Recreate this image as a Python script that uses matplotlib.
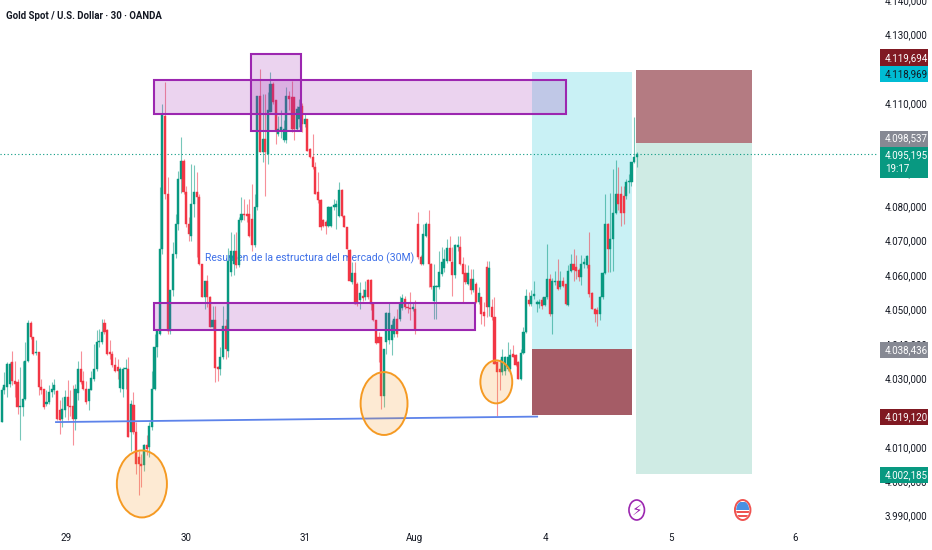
# -*- coding: utf-8 -*-
import numpy as np
import matplotlib
matplotlib.use('Agg')
import matplotlib.pyplot as plt
from matplotlib.patches import Rectangle, Ellipse
from matplotlib.transforms import IdentityTransform

plt.rcParams['font.family'] = ['Roboto', 'DejaVu Sans']

# candles (30M)
opens = [
    4017.2, 4026.4, 4027.4, 4028.4, 4034.6, 4029.3, 4028.8, 4021.6, 4021.6, 4024,
    4035.1, 4046, 4041.9, 4037.3, 4037.6, 4027.4, 4026.9, 4022.5, 4023, 4025.9,
    4026.4, 4026.2, 4020.8, 4018.2, 4020.8, 4024.5, 4022, 4021.8, 4018.2, 4025.6,
    4032.7, 4029.3, 4026.9, 4023.2, 4026.6, 4029.8, 4032.7, 4040.5, 4040.5, 4046,
    4043.9, 4037.6, 4037.1, 4033.7, 4033.2, 4027.2, 4026.9, 4032.7, 4032.7, 4014.3,
    4022.3, 4014.3, 4007, 4005, 4004.6, 4010.4, 4009.9, 4015.7, 4026.9, 4039,
    4042.9, 4067.6, 4106.4, 4083.6, 4043.8, 4055.5, 4066, 4074.9, 4088, 4093.3,
    4084.1, 4074.9, 4071.5, 4080.7, 4084.1, 4082.6, 4063.3, 4053.6, 4058.4, 4053.6,
    4044.8, 4046.8, 4033.2, 4032.7, 4036.1, 4045.3, 4038, 4060.8, 4063.3, 4067.1,
    4062.8, 4075.9, 4077.8, 4077.8, 4077.8, 4076.3, 4068.6, 4079.7, 4112.2, 4095.8,
    4099.6, 4095.3, 4107.4, 4115.6, 4110.8, 4101, 4102, 4099.2, 4099.2, 4112.2,
    4111.8, 4111.8, 4102.5, 4105.4, 4109.3, 4104, 4105.4, 4096.7, 4094.3, 4091.4,
    4084.1, 4081.7, 4075.9, 4075.4, 4074.4, 4074.4, 4079.7, 4079.7, 4077.3, 4084.8,
    4077.3, 4073.9, 4067.3, 4057.9, 4060.5, 4057.4, 4052.6, 4054, 4053.5, 4058.6,
    4058.6, 4051.6, 4046.8, 4041.9, 4041.9, 4024.9, 4040.5, 4041, 4041, 4042.9,
    4047.2, 4047.2, 4050.4, 4053, 4050.6, 4050.4, 4050.2, 4050.2, 4074.9, 4065.2,
    4063.3, 4071.5, 4074.9, 4063.3, 4052.4, 4056.5, 4056.5, 4060.3, 4062.1, 4064.2,
    4067.8, 4063.7, 4059.9, 4068.1, 4068.3, 4063.3, 4060.5, 4057.4, 4058.9, 4055.5,
    4057.4, 4052.1, 4053.5, 4049.2, 4062.3, 4050.6, 4050.6, 4047.7, 4034.6, 4032.7,
    4031.7, 4032, 4032.7, 4032.7, 4037.1, 4036.6, 4034.6, 4029.8, 4037.3, 4043.4,
    4052.6, 4051.6, 4054, 4051.6, 4051.6, 4052.6, 4051.4, 4053.5, 4058.9, 4048.7,
    4057.9, 4058.4, 4056.5, 4058.4, 4057.4, 4051.4, 4061.3, 4063.3, 4062.3, 4061.5,
    4059.4, 4063.3, 4062.8, 4062.8, 4054.7, 4050.2, 4049.9, 4048.7, 4053.5, 4060.6,
    4074.9, 4067.6, 4070.5, 4078, 4083.6, 4083.6, 4083.1, 4083.1, 4087, 4087,
    4092.8, 4094.3]
highs = [
    4027.4, 4031.8, 4034.6, 4034.6, 4038, 4035.1, 4029.8, 4033.2, 4035.1, 4040.5,
    4046.8, 4046.6, 4042, 4041, 4037.6, 4029.8, 4026.9, 4026.4, 4027.9, 4028.8,
    4029.8, 4026.4, 4023.5, 4024.5, 4026.4, 4029.5, 4026.4, 4027.9, 4028.4, 4035.1,
    4038, 4032.2, 4029.3, 4026.9, 4032.2, 4040, 4043.9, 4044.4, 4047.3, 4047.3,
    4044.4, 4041, 4038, 4036.1, 4035.6, 4033.2, 4033.2, 4035.6, 4036.1, 4023.5,
    4025.9, 4017.2, 4008.9, 4008, 4010.9, 4013.3, 4017.2, 4032.2, 4042.9, 4044,
    4085.5, 4109.8, 4116.1, 4088.5, 4055.5, 4069.6, 4077.8, 4090.4, 4100.1, 4093.8,
    4086, 4076.8, 4092.4, 4091.9, 4090, 4083.6, 4063.3, 4058.4, 4059.9, 4054,
    4051.1, 4051.1, 4033.5, 4039, 4051.1, 4047.3, 4068, 4072.5, 4072, 4072.5,
    4076.8, 4082.6, 4082.2, 4080.7, 4082.2, 4086.5, 4083.6, 4112.2, 4120, 4112.7,
    4112.7, 4113.2, 4119, 4116.1, 4110.8, 4106.4, 4107.9, 4105, 4114.7, 4113.5,
    4116.6, 4111.8, 4109.3, 4111.3, 4110, 4107, 4105.4, 4097, 4101, 4092.8,
    4090, 4082, 4076.3, 4075.9, 4080, 4080, 4082.2, 4081.7, 4087, 4085,
    4077.5, 4074, 4067.5, 4063.7, 4063.7, 4058, 4057.9, 4056, 4058.4, 4058.9,
    4058.9, 4052, 4047, 4043.4, 4042, 4038.5, 4049.2, 4052, 4046.8, 4048,
    4050.2, 4054, 4054.5, 4054, 4052, 4055, 4052, 4052.6, 4078.3, 4065.7,
    4074.9, 4075.4, 4078.8, 4063.5, 4063.3, 4057, 4067.1, 4068.1, 4067.6, 4070.5,
    4071.5, 4068.1, 4069, 4071.5, 4071.5, 4065.2, 4063.3, 4062.8, 4061.8, 4061.8,
    4057.9, 4056.5, 4053.6, 4052.1, 4064.2, 4064, 4053, 4053.5, 4035, 4035.6,
    4038.5, 4036.5, 4040.5, 4038.5, 4039.5, 4037, 4035, 4038.5, 4044.8, 4056,
    4055, 4055.5, 4058.4, 4052.6, 4053, 4053.5, 4053.7, 4069, 4060.3, 4059,
    4061.3, 4064.7, 4061.3, 4059.4, 4057.5, 4062.8, 4066, 4067.6, 4065.7, 4062,
    4065.7, 4065, 4065.7, 4072.5, 4055, 4050.5, 4050.7, 4054, 4060.8, 4083.6,
    4075, 4084, 4090.9, 4093.5, 4091.4, 4086, 4086, 4088, 4089.4, 4093,
    4105.9, 4095.8]
lows = [
    4017.2, 4025.4, 4024.5, 4027.4, 4027.9, 4024.5, 4019.6, 4011.9, 4019.1, 4023.5,
    4034.6, 4041.4, 4036.6, 4036.6, 4025, 4025.4, 4021, 4021.8, 4022.5, 4024.5,
    4025.4, 4017.7, 4013.8, 4015.7, 4018.7, 4017.7, 4019.1, 4010.4, 4014.8, 4023.5,
    4028.4, 4026.4, 4022.5, 4020.6, 4026.4, 4029.3, 4032.2, 4039, 4040, 4042.9,
    4036.6, 4035.6, 4033.2, 4031.8, 4029.8, 4025.9, 4024.5, 4026.9, 4012.8, 4008.9,
    4013.8, 4002.1, 3995.9, 3998.3, 4003.1, 4007.5, 4007, 4014.8, 4026.4, 4036.1,
    4042.4, 4066, 4082, 4042.9, 4042.9, 4054, 4065, 4073, 4084, 4083.6,
    4074, 4070, 4070, 4077, 4065.2, 4063, 4053.6, 4050, 4050.6, 4044.8,
    4044, 4028.8, 4029.3, 4030.8, 4035.6, 4035.6, 4036, 4059.8, 4060, 4062,
    4062.3, 4075.4, 4076, 4075.4, 4071, 4067.1, 4068.1, 4078.8, 4095.8, 4093,
    4083.1, 4092.4, 4107.4, 4109.8, 4098.2, 4100.6, 4100, 4098.7, 4098.5, 4108,
    4101.6, 4099.2, 4102, 4103, 4101.5, 4103, 4096, 4094, 4091, 4083.5,
    4081, 4073, 4073.9, 4072, 4073.9, 4073.9, 4079, 4073.4, 4076.8, 4076.8,
    4073.9, 4067.5, 4058.4, 4057.4, 4051.6, 4051, 4050, 4052.5, 4052.6, 4053,
    4049.7, 4046.5, 4040, 4034.6, 4021, 4021.5, 4037, 4040, 4036.6, 4042,
    4042, 4046.5, 4049.7, 4050.2, 4049, 4046.8, 4049.5, 4042.9, 4064.7, 4062.8,
    4062.8, 4071, 4056.5, 4056, 4047.2, 4047.2, 4056, 4059.8, 4061, 4063.5,
    4064, 4054, 4059, 4067, 4063, 4052.1, 4057.4, 4057, 4054.5, 4055,
    4052, 4051.6, 4045.8, 4045.3, 4047.7, 4048, 4047, 4034, 4019.1, 4026.4,
    4031, 4031, 4032, 4032, 4036, 4033.5, 4029.7, 4029.5, 4037, 4043,
    4051.1, 4051, 4053, 4049.2, 4050.5, 4050.2, 4051, 4053, 4048.2, 4042.9,
    4057, 4055.5, 4056, 4056.5, 4051.4, 4051, 4061, 4058.4, 4058.9, 4058.4,
    4057, 4062, 4062, 4053.7, 4050, 4046.3, 4045.3, 4047, 4053, 4060.3,
    4060.8, 4061, 4061.3, 4077.8, 4079, 4074.4, 4074.9, 4082, 4084, 4086,
    4092.5, 4091.4]
closes = [
    4026.4, 4027.9, 4034.2, 4034.2, 4029.3, 4028.4, 4021.6, 4022, 4024, 4035.1,
    4046, 4041.9, 4037.1, 4037.6, 4027.4, 4026.6, 4021.6, 4023, 4025.9, 4026.9,
    4027.9, 4018.2, 4017.9, 4021.1, 4024.5, 4021.8, 4021.6, 4018.2, 4026.9, 4032.7,
    4028.8, 4026.9, 4023, 4026.9, 4030.1, 4032.7, 4040.5, 4040.8, 4043.4, 4043.4,
    4037.1, 4037.1, 4033.7, 4032.2, 4032.2, 4032.7, 4032.7, 4032.9, 4012.8, 4022.5,
    4014.3, 4005, 4005, 4004.4, 4010.4, 4009.4, 4016.2, 4026.9, 4039, 4043.9,
    4067.6, 4106.9, 4083.6, 4043.8, 4055.5, 4066, 4074.9, 4088, 4093.3, 4084.1,
    4074.9, 4072, 4080.7, 4084.1, 4082.6, 4063.3, 4053.6, 4058.4, 4053.6, 4044.8,
    4046.8, 4033, 4032.7, 4036.1, 4045.3, 4038.5, 4064.2, 4067.1, 4067.1, 4062.8,
    4075.9, 4077.8, 4077.6, 4077.3, 4071.5, 4068.6, 4079.7, 4112.2, 4095.8, 4099.6,
    4095.8, 4107.9, 4115.6, 4110.3, 4102, 4102.5, 4103, 4102.5, 4112.2, 4111.3,
    4102.5, 4102.5, 4108.4, 4108.9, 4104, 4105.4, 4096.2, 4094.3, 4091.4, 4083.6,
    4081.7, 4073.9, 4074.4, 4074.4, 4079.7, 4079.7, 4080.5, 4080.7, 4084.8, 4077.3,
    4073.9, 4067.6, 4058.4, 4060.5, 4051.6, 4051.6, 4054.7, 4053.4, 4055.5, 4053.5,
    4051.6, 4046.8, 4040.2, 4040.2, 4024.9, 4038.5, 4048.9, 4048.9, 4045.6, 4047.2,
    4042.9, 4051.6, 4053.4, 4050.6, 4050.4, 4050.2, 4050.6, 4044.3, 4065.2, 4063.3,
    4072, 4074.9, 4063.3, 4056.5, 4056.7, 4056.7, 4060.8, 4063.7, 4064.7, 4067.8,
    4064.2, 4059.9, 4068.6, 4068.6, 4063.3, 4060.3, 4057.9, 4060.5, 4055.5, 4058.9,
    4052.1, 4054.7, 4048.7, 4048.2, 4050.6, 4062, 4047.7, 4034.2, 4031.7, 4031.7,
    4036.1, 4036.1, 4036.1, 4036.6, 4036.1, 4033.7, 4029.8, 4037.3, 4043.4, 4054,
    4051.6, 4054, 4054.5, 4052.1, 4052.1, 4051.1, 4053.5, 4058.9, 4048.7, 4058.4,
    4058.4, 4056, 4058.4, 4056.9, 4051.6, 4061.3, 4063.3, 4061.5, 4061.3, 4059.4,
    4063.3, 4063.7, 4065.4, 4054.5, 4050.2, 4048.7, 4048.7, 4053.5, 4060.5, 4074.9,
    4067.6, 4070.5, 4078, 4083.6, 4080.7, 4078, 4078, 4087, 4087.5, 4092.8,
    4094.3, 4095.2]

# axes labels
y_ticks = [3990, 4000, 4010, 4020, 4030, 4040, 4050, 4060, 4070, 4080, 4090, 4100, 4110, 4120, 4130, 4140]
day_labels = ['29', '30', '31', 'Aug', '4', '5', '6']
day_bars = [24.4, 69.9, 115.1, 156.8, 206.2, 254, 301]

# price levels of the two position tools
last_price = 4095.195
long_target, long_entry, long_stop = 4118.969, 4038.436, 4019.12
short_stop, short_entry, short_target = 4119.694, 4098.537, 4002.185

# price axis tags: text, background, text colour
tag_texts = ['4.119,694', '4.118,969', '4.098,537', '4.095,195\n19:17', '4.038,436', '4.019,120', '4.002,185']
tag_colors = ['#801922', '#00bcd4', '#868993', '#089981', '#868993', '#801922', '#089981']
tag_text_colors = ['white', '#131722', 'white', 'white', 'white', 'white', 'white']
tag_tops = [49.5, 66, 130.5, 147, 341.5, 408.5, 466.5]
tag_bottoms = [66, 82, 146.5, 177.5, 358, 425, 483]

GREEN = '#089981'
RED = '#f23645'
PURPLE = '#9c27b0'
ORANGE = '#f59a23'
AXIS_SIZE = 7.0
W, H = 932, 550

fig = plt.figure(figsize=(W / 100, H / 100), dpi=100, facecolor='white')
ax = fig.add_axes([0, 25 / H, 878 / W, 525 / H])
ax.set_xlim(-0.645, 332.55)
ax.set_ylim(3987.25, 4140.04)
for s in ax.spines.values():
    s.set_visible(False)

# position tools sit under the candles
ax.add_patch(Rectangle((201.3, long_entry), 37.9, long_target - long_entry, fc='#c9f1f5', ec='none', zorder=1))
ax.add_patch(Rectangle((201.3, long_stop), 37.9, long_entry - long_stop, fc='#a55c66', ec='none', zorder=1))
ax.add_patch(Rectangle((240.7, short_entry), 44, short_stop - short_entry, fc='#b47b82', ec='none', zorder=1))
ax.add_patch(Rectangle((240.7, short_target), 44, short_entry - short_target, fc='#cfebe4', ec='none', zorder=1))

ax.axhline(last_price, color=GREEN, lw=0.8, ls=(0, (1, 2.2)), zorder=1.5)
ax.text(77, 4064.8, 'Resumen de la estructura del mercado (30M)', color='#3d6fe8', fontsize=7.5,
        va='center', ha='left', zorder=2)

# candles
o = np.array(opens)
h = np.array(highs)
l = np.array(lows)
c = np.array(closes)
x = np.arange(len(o))
colors = [GREEN if b >= a else RED for a, b in zip(o, c)]
ax.vlines(x, l, h, colors=colors, lw=0.8, alpha=0.55, zorder=3)
ax.bar(x, np.abs(c - o), bottom=np.minimum(o, c), width=0.8, color=colors, edgecolor=colors, lw=0.3, zorder=3.1)

# zones
zone_fill = (0.612, 0.153, 0.69, 0.2)
for x0, x1, y0, y1 in [(57.8, 214.2, 4107, 4116.9), (94.6, 113.6, 4102, 4124.2), (57.8, 179.8, 4043.9, 4051.8)]:
    ax.add_patch(Rectangle((x0, y0), x1 - x0, y1 - y0, fc=zone_fill, ec=PURPLE, lw=1.5, zorder=4))

# trend line and circled lows
ax.plot([20.6, 203.2], [4017.2, 4018.8], color='#5d83ea', lw=1.3, zorder=4)
for cx, cy, w, hh in [(53.2, 3999.2, 19, 19.5), (145.1, 4022.6, 17.8, 18.3), (187.7, 4028.9, 12.1, 12.5)]:
    ax.add_patch(Ellipse((cx, cy), w, hh, fc=(0.96, 0.6, 0.14, 0.2), ec=ORANGE, lw=1.4, zorder=4.5))

# axes
ax.yaxis.tick_right()
ax.set_yticks(y_ticks)
ax.set_yticklabels([f'{v // 1000}.{v % 1000:03d},000' for v in y_ticks], fontsize=AXIS_SIZE, color='#131722')
ax.set_xticks(day_bars)
ax.set_xticklabels(day_labels, fontsize=AXIS_SIZE, color='#131722')
ax.tick_params(axis='y', length=0, pad=5)
ax.tick_params(axis='x', length=0, pad=6)

fig.text(6 / W, 1 - 16 / H, 'Gold Spot / U.S. Dollar · 30 · OANDA', fontsize=6.9, fontweight='bold',
         color='#131722', va='center', ha='left')

# tags on the price axis, over the tick labels
for txt, col, tcol, top, bot in zip(tag_texts, tag_colors, tag_text_colors, tag_tops, tag_bottoms):
    fig.add_artist(Rectangle((879.5 / W, 1 - bot / H), 48.5 / W, (bot - top) / H, fc=col, ec='none',
                             transform=fig.transFigure, zorder=5))
    fig.text(885 / W, 1 - (top + bot) / 2 / H, txt, fontsize=AXIS_SIZE, color=tcol, va='center', ha='left',
             linespacing=1.5, zorder=6)

# event icons under the bars
bolt = Ellipse((636.7, H - 510), 15.5, 20, fc='white', ec=PURPLE, lw=1.2, transform=IdentityTransform(), zorder=5)
fig.add_artist(bolt)
fig.text(636.7 / W, 1 - 510 / H, '\u26a1', fontsize=11, color=PURPLE, ha='center', va='center', zorder=6,
         family='DejaVu Sans')

flag = Ellipse((742.7, H - 510), 15.5, 20, fc='white', ec='#ef5350', lw=1.4, transform=IdentityTransform(), zorder=5)
fig.add_artist(flag)
stripes = [(502, 8, '#4a90e2'), (510.5, 2.2, '#ef5350'), (514.5, 2.2, '#ef5350')]
for top, height, col in stripes:
    r = Rectangle((734, H - top - height), 18, height, fc=col, ec='none', transform=IdentityTransform(), zorder=5.5)
    fig.add_artist(r)
    r.set_clip_path(Ellipse((742.7, H - 510), 13, 17.5, transform=IdentityTransform()))

fig.savefig('out.png', dpi=100, facecolor='white')
